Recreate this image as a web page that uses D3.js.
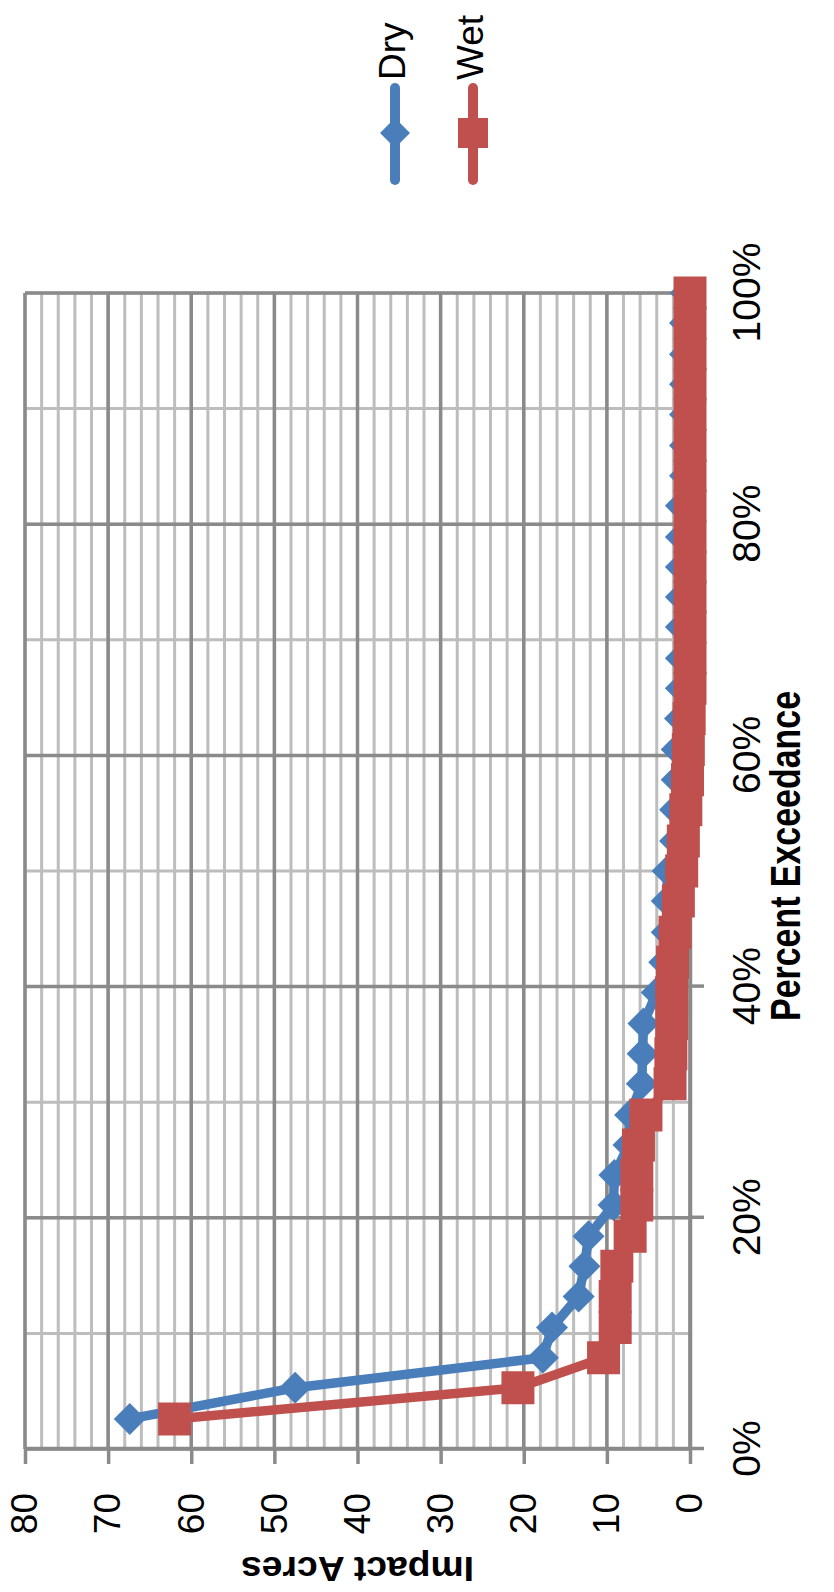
<!DOCTYPE html>
<html>
<head>
<meta charset="utf-8">
<script src="https://cdn.jsdelivr.net/npm/d3@7"></script>
<style>
    body { margin: 0; background: #fff; }
    #chart { width: 834px; height: 1592px; }
    text { font-family: "Liberation Sans", Arial, sans-serif; fill: #000; }
</style>
</head>
<body>
<div id="chart"></div>
<script>
// Percent exceedance of each ranked event (x values)
const exceedance = [
    2.6, 5.3, 7.9, 10.5, 13.2, 15.8, 18.4, 21.1, 23.7, 26.3,
    28.9, 31.6, 34.2, 36.8, 39.5, 42.1, 44.7, 47.4, 50.0, 52.6,
    55.3, 57.9, 60.5, 63.2, 65.8, 68.4, 71.1, 73.7, 76.3, 78.9,
    81.6, 84.2, 86.8, 89.5, 92.1, 94.7, 97.4, 100.0,
];

// Impact acres, dry year
const dryAcres = [
    67.4, 47.5, 17.7, 16.6, 13.4, 12.7, 12.2, 9.2, 9.1, 7.4,
    7.2, 5.8, 5.7, 5.6, 4.0, 3.1, 2.8, 2.8, 2.7, 1.8,
    1.8, 1.6, 1.6, 1.2, 1.1, 1.1, 1.1, 1.1, 1.1, 1.1,
    1.1, 0.6, 0.6, 0.6, 0.6, 0.6, 0.6, 0.5,
];

// Impact acres, wet year
const wetAcres = [
    62.0, 20.7, 10.4, 9.0, 9.0, 8.8, 7.2, 6.4, 6.4, 6.2,
    5.3, 2.4, 2.3, 2.2, 2.2, 2.1, 1.8, 1.4, 1.0, 0.8,
    0.5, 0.3, 0.2, 0.1, 0.0, 0.0, 0.0, 0.0, 0.0, 0.0,
    0.0, 0.0, 0.0, 0.0, 0.0, 0.0, 0.0, 0.0,
];

const seriesNames = ['Dry', 'Wet'];
const seriesColors = ['#4a7ebb', '#c0504d'];

const acresTicks = [0, 10, 20, 30, 40, 50, 60, 70, 80];
const pctTicks = [0, 20, 40, 60, 80, 100];

/* * * * * * * * * * * * * *
 *      ExceedanceVis       *
 * * * * * * * * * * * * * */

class ExceedanceVis {
    constructor(parentElement) {
        this.parentElement = parentElement;
        this.initVis();
    }

    initVis() {
        let vis = this;

        // chart is laid out sideways: inner frame is 1592 wide, 834 tall
        vis.outerW = 834;
        vis.outerH = 1592;
        vis.margin = { top: 25, right: 293, bottom: 144, left: 143 };
        vis.width = vis.outerH - vis.margin.left - vis.margin.right;
        vis.height = vis.outerW - vis.margin.top - vis.margin.bottom;

        vis.svg = d3
            .select('#' + vis.parentElement)
            .append('svg')
            .attr('width', vis.outerW)
            .attr('height', vis.outerH);

        vis.frame = vis.svg.append('g').attr('transform', `translate(0, ${vis.outerH}) rotate(-90)`);

        vis.plot = vis.frame
            .append('g')
            .attr('transform', `translate(${vis.margin.left}, ${vis.margin.top})`);

        vis.x = d3.scaleLinear().domain([0, 100]).range([0, vis.width]);
        vis.y = d3.scaleLinear().domain([0, 80]).range([vis.height, 0]);

        vis.series = [
            { name: seriesNames[0], color: seriesColors[0], shape: 'diamond',
              values: exceedance.map((p, i) => ({ pct: p, acres: dryAcres[i] })) },
            { name: seriesNames[1], color: seriesColors[1], shape: 'square',
              values: exceedance.map((p, i) => ({ pct: p, acres: wetAcres[i] })) },
        ];

        vis.drawGrid();
        vis.drawAxes();
        vis.drawSeries();
        vis.drawLegend();
    }

    drawGrid() {
        let vis = this;
        let grid = vis.plot.append('g').attr('class', 'grid');

        // minor lines first, major on top
        grid.selectAll('.vminor')
            .data(vis.x.ticks(10))
            .enter()
            .append('line')
            .attr('x1', (d) => vis.x(d)).attr('x2', (d) => vis.x(d))
            .attr('y1', 0).attr('y2', vis.height)
            .attr('stroke', '#bdbdbd').attr('stroke-width', 3);

        grid.selectAll('.hminor')
            .data(vis.y.ticks(40))
            .enter()
            .append('line')
            .attr('x1', 0).attr('x2', vis.width)
            .attr('y1', (d) => vis.y(d)).attr('y2', (d) => vis.y(d))
            .attr('stroke', '#bdbdbd').attr('stroke-width', 3);

        grid.selectAll('.vmajor')
            .data(pctTicks)
            .enter()
            .append('line')
            .attr('x1', (d) => vis.x(d)).attr('x2', (d) => vis.x(d))
            .attr('y1', 0).attr('y2', vis.height)
            .attr('stroke', '#8a8a8a').attr('stroke-width', 3.5);

        grid.selectAll('.hmajor')
            .data(acresTicks)
            .enter()
            .append('line')
            .attr('x1', 0).attr('x2', vis.width)
            .attr('y1', (d) => vis.y(d)).attr('y2', (d) => vis.y(d))
            .attr('stroke', '#8a8a8a').attr('stroke-width', 3.5);
    }

    drawAxes() {
        let vis = this;

        vis.xAxis = d3.axisBottom(vis.x)
            .tickValues(pctTicks)
            .tickFormat((d) => d + '%')
            .tickSizeInner(14).tickSizeOuter(0).tickPadding(28);

        vis.yAxis = d3.axisLeft(vis.y)
            .tickValues(acresTicks)
            .tickSizeInner(15).tickSizeOuter(0).tickPadding(29);

        vis.gx = vis.plot.append('g')
            .attr('class', 'axis x-axis')
            .attr('transform', `translate(0, ${vis.height})`)
            .call(vis.xAxis);

        vis.gy = vis.plot.append('g')
            .attr('class', 'axis y-axis')
            .call(vis.yAxis);

        vis.plot.selectAll('.axis path, .axis line')
            .attr('stroke', '#8a8a8a').attr('stroke-width', 3.5);
        vis.plot.selectAll('.axis text')
            .style('font-family', '"Liberation Sans", Arial, sans-serif')
            .style('font-size', '37px')
            .attr('fill', '#000');
        vis.gx.selectAll('text').style('font-size', '39px');

        vis.plot.append('text')
            .attr('class', 'title x-title')
            .attr('x', vis.width / 2 + 15)
            .attr('y', vis.height + 110)
            .attr('text-anchor', 'middle')
            .attr('textLength', 330)
            .attr('lengthAdjust', 'spacingAndGlyphs')
            .style('font-size', '42px')
            .style('font-weight', 'bold')
            .text('Percent Exceedance');

        vis.plot.append('text')
            .attr('class', 'title y-title')
            .attr('transform', `translate(${35 - vis.margin.left}, ${vis.height / 2}) rotate(-90)`)
            .attr('text-anchor', 'middle')
            .attr('textLength', 233)
            .attr('lengthAdjust', 'spacingAndGlyphs')
            .style('font-size', '35px')
            .style('font-weight', 'bold')
            .text('Impact Acres');
    }

    marker(shape) {
        return shape === 'diamond'
            ? d3.symbol(d3.symbolSquare, 512)()
            : d3.symbol(d3.symbolSquare, 1089)();
    }

    drawSeries() {
        let vis = this;

        vis.trend = d3.line()
            .x((d) => vis.x(d.pct))
            .y((d) => vis.y(d.acres));

        vis.series.forEach((s) => {
            let g = vis.plot.append('g').attr('class', 'series');

            g.append('path')
                .datum(s.values)
                .attr('d', vis.trend)
                .attr('fill', 'none')
                .attr('stroke', s.color)
                .attr('stroke-width', 9.5)
                .attr('stroke-linejoin', 'round');

            g.selectAll('.point')
                .data(s.values)
                .enter()
                .append('path')
                .attr('class', 'point')
                .attr('d', vis.marker(s.shape))
                .attr('transform', (d) =>
                    `translate(${vis.x(d.pct)}, ${vis.y(d.acres)})` + (s.shape === 'diamond' ? ' rotate(45)' : ''))
                .attr('fill', s.color);
        });
    }

    drawLegend() {
        let vis = this;

        let legend = vis.frame.append('g').attr('class', 'legend');
        let rowV = [395, 473];

        vis.series.forEach((s, i) => {
            let v = rowV[i];
            legend.append('line')
                .attr('x1', 1412).attr('x2', 1504)
                .attr('y1', v).attr('y2', v)
                .attr('stroke', s.color).attr('stroke-width', 10)
                .attr('stroke-linecap', 'round');

            legend.append('path')
                .attr('d', s.shape === 'diamond' ? d3.symbol(d3.symbolSquare, 450)() : d3.symbol(d3.symbolSquare, 900)())
                .attr('transform', `translate(1459, ${v})` + (s.shape === 'diamond' ? ' rotate(45)' : ''))
                .attr('fill', s.color);

            legend.append('text')
                .attr('x', 1512)
                .attr('y', v + 10)
                .style('font-size', '37px')
                .text(s.name);
        });
    }
}

new ExceedanceVis('chart');
</script>
</body>
</html>
